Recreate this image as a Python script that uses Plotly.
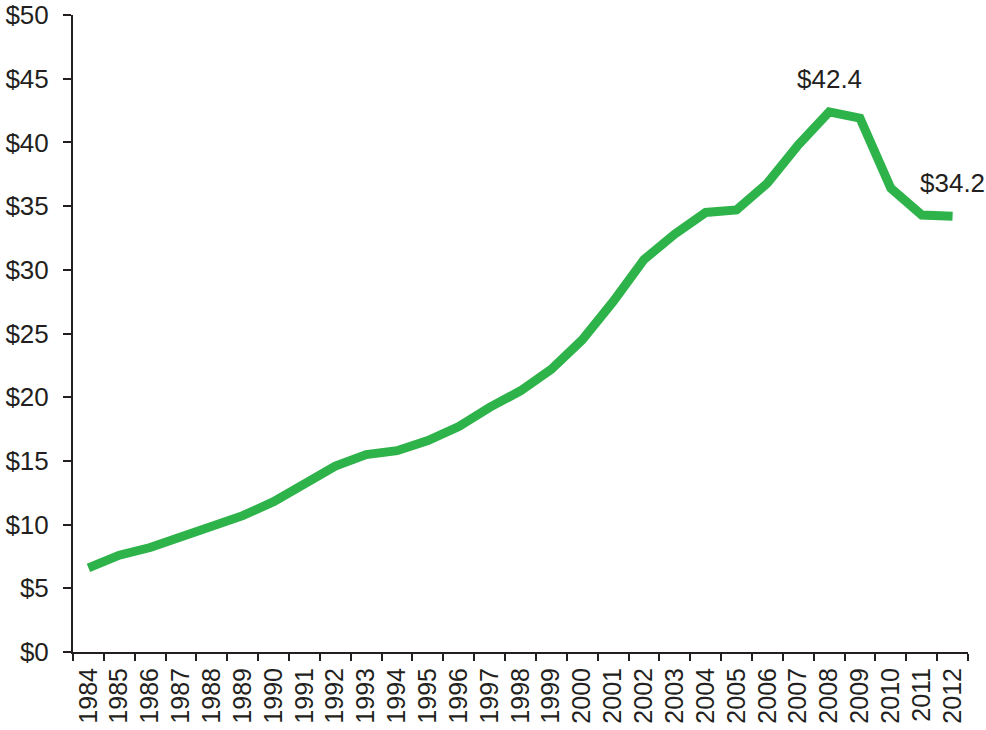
import plotly.graph_objects as go

years = [str(y) for y in range(1984, 2013)]
values = [6.6, 7.6, 8.2, 9.0, 9.9, 10.7, 11.8, 13.3, 14.6, 15.5, 15.8, 16.6, 17.7,
          19.2, 20.5, 22.2, 24.5, 27.5, 30.8, 32.8, 34.5, 34.7, 36.8, 39.8, 42.4,
          41.9, 36.4, 34.3, 34.2]
y_ticks = list(range(0, 51, 5))
y_tick_labels = [f"${v}" for v in y_ticks]
label_years = ["2008", "2012"]
label_texts = ["$42.4", "$34.2"]

txt = "#231f20"
fig = go.Figure()
fig.add_trace(go.Scatter(x=years, y=values, mode="lines",
                         line=dict(color="#2eb34a", width=9), hoverinfo="skip"))
for yr, lab in zip(label_years, label_texts):
    fig.add_annotation(x=years.index(yr), y=values[years.index(yr)], xref="x", yref="y",
                       text=lab, showarrow=False, yanchor="bottom", yshift=16,
                       font=dict(family="Arial", size=26, color=txt))

fig.update_layout(
    width=986, height=730, autosize=False, plot_bgcolor="white", paper_bgcolor="white",
    margin=dict(l=73, r=18, t=15, b=78, pad=0), showlegend=False,
    font=dict(family="Arial", size=25, color=txt),
)
fig.update_xaxes(type="category", tickson="boundaries", ticks="outside", ticklen=7,
                 tickwidth=2, tickcolor=txt, showline=True, linecolor=txt, linewidth=2,
                 tickangle=-90, showgrid=False, tickfont=dict(family="Arial", size=25, color=txt),
                 tickmode="linear", dtick=1, ticklabeloverflow="allow", ticklabelstandoff=4,
                 range=[-0.5, len(years) - 0.5], automargin=False)
fig.update_yaxes(range=[0, 50], tickvals=y_ticks, ticktext=y_tick_labels, ticks="outside",
                 ticklen=8, tickwidth=2, tickcolor=txt, showline=True, linecolor=txt,
                 linewidth=2, showgrid=False, zeroline=False, ticklabeloverflow="allow",
                 ticklabelstandoff=9,
                 tickfont=dict(family="Arial", size=26, color=txt), automargin=False)
fig.write_html("out.html", config={"displayModeBar": False},
               post_script="document.body.style.margin='0';")
